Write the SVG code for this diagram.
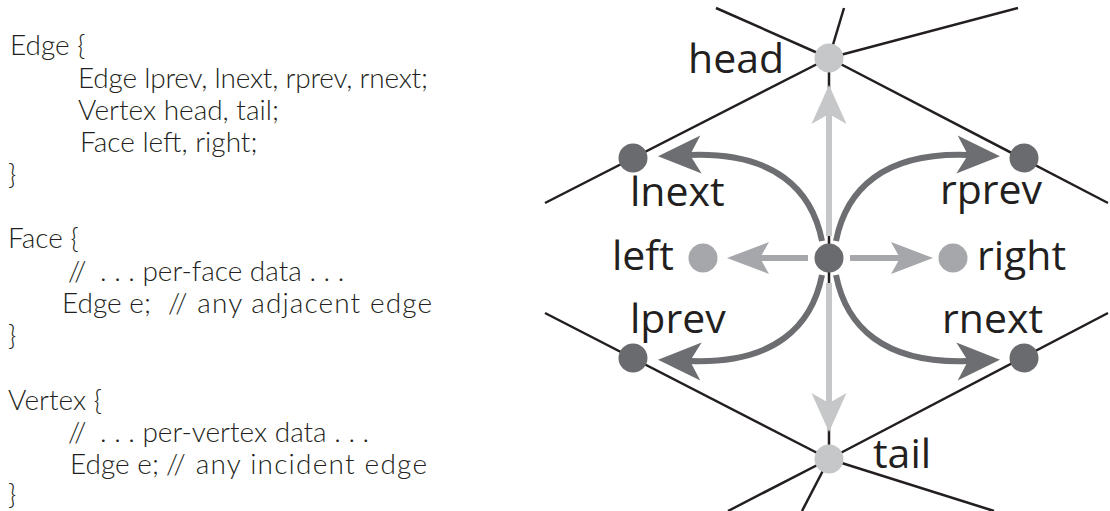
<svg xmlns="http://www.w3.org/2000/svg" width="1110" height="511" viewBox="0 0 1110 511">
  <style>
    .code { font-family: Lato, "Liberation Sans", sans-serif; font-weight: 300; font-size: 28px; fill: #231f20; }
    .lbl { font-family: "Open Sans", "Liberation Sans", sans-serif; font-size: 41px; fill: #231f20; }
    .mesh { stroke: #231f20; stroke-width: 2.5; fill: none; }
    .vtx-light { fill: #c6c7c9; }
    .vtx-dark { fill: #6a6b6e; }
    .face { fill: #a5a7aa; }
    .arr-light { stroke: #c6c7c9; stroke-width: 6; fill: none; marker-end: url(#head-light); }
    .arr-mid { stroke: #a5a7aa; stroke-width: 6; fill: none; marker-end: url(#head-mid); }
    .arr-dark { stroke: #6d6e71; stroke-width: 6; fill: none; marker-end: url(#head-dark); }
  </style>
  <defs>
    <!-- notched arrowheads; origin sits at the notch, tip points along +x -->
    <marker id="head-light" markerUnits="userSpaceOnUse" viewBox="-12 -20 46 40" markerWidth="46" markerHeight="40" refX="0" refY="0" orient="auto" overflow="visible">
      <path d="M0,0 L-10,-17.5 L29,0 L-10,17.5 Z" fill="#c6c7c9"/>
    </marker>
    <marker id="head-mid" markerUnits="userSpaceOnUse" viewBox="-12 -20 50 40" markerWidth="50" markerHeight="40" refX="0" refY="0" orient="auto" overflow="visible">
      <path d="M0,0 L-9,-16 L33,0 L-9,16 Z" fill="#a5a7aa"/>
    </marker>
    <marker id="head-dark" markerUnits="userSpaceOnUse" viewBox="-12 -22 50 44" markerWidth="50" markerHeight="44" refX="0" refY="0" orient="auto" overflow="visible">
      <path d="M0,0 L-11,-19 L32,0 L-11,19 Z" fill="#6d6e71"/>
    </marker>
  </defs>

  <rect width="1110" height="511" fill="#ffffff"/>

  <!-- data structure listing -->
  <g id="code">
    <text class="code" x="10" y="55">Edge {</text>
    <text class="code" x="78" y="88" textLength="350" lengthAdjust="spacing">Edge lprev, lnext, rprev, rnext;</text>
    <text class="code" x="78" y="120">Vertex head, tail;</text>
    <text class="code" x="80" y="152">Face left, right;</text>
    <text class="code" x="8" y="184">}</text>

    <text class="code" x="8" y="248">Face {</text>
    <text class="code" y="281"><tspan x="68">//</tspan><tspan x="100">. . . per-face data . . .</tspan></text>
    <text class="code" y="313"><tspan x="62">Edge e;</tspan><tspan x="168" textLength="264" lengthAdjust="spacing">// any adjacent edge</tspan></text>
    <text class="code" x="8" y="345">}</text>

    <text class="code" x="8" y="410">Vertex {</text>
    <text class="code" y="442"><tspan x="68">//</tspan><tspan x="100">. . . per-vertex data . . .</tspan></text>
    <text class="code" y="474"><tspan x="70">Edge e;</tspan><tspan x="166" textLength="261" lengthAdjust="spacing">// any incident edge</tspan></text>
    <text class="code" x="8" y="504">}</text>
  </g>

  <!-- surrounding mesh edges -->
  <g id="mesh">
    <line class="mesh" x1="829" y1="58" x2="716" y2="8"/>
    <line class="mesh" x1="829" y1="58" x2="844" y2="8"/>
    <line class="mesh" x1="829" y1="58" x2="1018" y2="8"/>
    <line class="mesh" x1="829" y1="58" x2="545" y2="203"/>
    <line class="mesh" x1="829" y1="58" x2="1108" y2="203"/>
    <line class="mesh" x1="829" y1="459" x2="545" y2="313"/>
    <line class="mesh" x1="829" y1="459" x2="1108" y2="313"/>
    <line class="mesh" x1="829" y1="459" x2="728" y2="511"/>
    <line class="mesh" x1="829" y1="459" x2="802" y2="511"/>
    <line class="mesh" x1="829" y1="459" x2="994" y2="511"/>
    <line class="mesh" x1="829" y1="58" x2="829" y2="459"/>
  </g>

  <!-- pointers held by the edge -->
  <g id="connectors">
    <path id="to-head" class="arr-light" d="M829,236 L829,114"/>
    <path id="to-tail" class="arr-light" d="M829,283 L829,403"/>
    <path id="to-left" class="arr-mid" d="M808,258 L760,258"/>
    <path id="to-right" class="arr-mid" d="M850,258 L900,258"/>
    <path id="to-lnext" class="arr-dark" d="M822,241 C812,190 775,152 690,155"/>
    <path id="to-rprev" class="arr-dark" d="M836,241 C846,190 883,152 968,155"/>
    <path id="to-lprev" class="arr-dark" d="M822,275 C812,326 775,364 690,361"/>
    <path id="to-rnext" class="arr-dark" d="M836,275 C846,326 883,364 968,361"/>
  </g>

  <g id="edge">
    <circle class="vtx-dark" cx="829" cy="258" r="14.5"/>
  </g>
  <g id="head">
    <circle class="vtx-light" cx="829" cy="58" r="14.5"/>
    <text class="lbl" x="688" y="73">head</text>
  </g>
  <g id="tail">
    <circle class="vtx-light" cx="829" cy="459" r="14.5"/>
    <text class="lbl" x="873" y="468">tail</text>
  </g>
  <g id="left">
    <circle class="face" cx="703" cy="258" r="14.5"/>
    <text class="lbl" x="612" y="270">left</text>
  </g>
  <g id="right">
    <circle class="face" cx="953" cy="258" r="14.5"/>
    <text class="lbl" x="977" y="270">right</text>
  </g>
  <g id="lnext">
    <circle class="vtx-dark" cx="633" cy="158" r="14.5"/>
    <text class="lbl" x="630" y="206">lnext</text>
  </g>
  <g id="rprev">
    <circle class="vtx-dark" cx="1024" cy="158" r="14.5"/>
    <text class="lbl" x="940" y="204">rprev</text>
  </g>
  <g id="lprev">
    <circle class="vtx-dark" cx="633" cy="358" r="14.5"/>
    <text class="lbl" x="630" y="333">lprev</text>
  </g>
  <g id="rnext">
    <circle class="vtx-dark" cx="1024" cy="358" r="14.5"/>
    <text class="lbl" x="942" y="333">rnext</text>
  </g>
</svg>
